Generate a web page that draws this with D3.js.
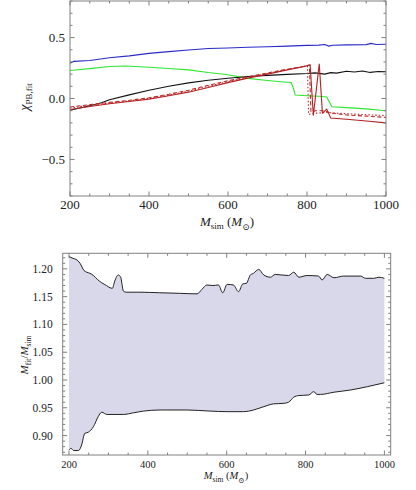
<!DOCTYPE html>
<html><head><meta charset="utf-8">
<script src="https://cdn.jsdelivr.net/npm/d3@7"></script>
<style>body{margin:0;background:#fff}svg{display:block}text{font-family:"Liberation Serif","DejaVu Serif",serif;fill:#222}</style>
</head><body><svg id="c" width="416" height="490"></svg>
<script>
// ---- data (top panel): [M_sim, chi]
const blueSeries = [[200,0.29],[210,0.305],[250,0.312],[300,0.335],[350,0.35],[400,0.37],[450,0.385],[500,0.398],[550,0.41],[600,0.414],[650,0.42],[700,0.425],[750,0.43],[800,0.436],[830,0.438],[845,0.443],[855,0.43],[865,0.437],[900,0.44],[950,0.442],[962,0.452],[975,0.443],[1000,0.445]];
const greenSeries = [[200,0.23],[250,0.245],[300,0.262],[340,0.267],[400,0.256],[450,0.246],[500,0.235],[550,0.213],[600,0.195],[650,0.165],[700,0.148],[740,0.136],[760,0.131],[766,0.08],[770,0.028],[800,0.022],[830,0.018],[850,0.012],[857,-0.03],[863,-0.068],[900,-0.075],[950,-0.085],[1000,-0.1]];
const blackSeries = [[200,-0.097],[250,-0.06],[280,-0.035],[300,-0.01],[350,0.03],[400,0.068],[450,0.1],[500,0.128],[550,0.15],[600,0.166],[650,0.18],[700,0.19],[750,0.198],[800,0.205],[820,0.21],[845,0.2],[860,0.212],[875,0.208],[900,0.224],[920,0.218],[940,0.226],[960,0.214],[980,0.222],[1000,0.22]];
const redSolid = [[200,-0.09],[250,-0.065],[300,-0.043],[350,-0.025],[400,-0.005],[450,0.022],[500,0.052],[550,0.09],[600,0.13],[650,0.167],[700,0.2],[750,0.235],[790,0.26],[808,0.276],[816,-0.14],[831,0.284],[839,-0.12],[850,-0.087],[860,-0.16],[900,-0.17],[950,-0.185],[1000,-0.2]];
const redDashed = [[200,-0.07],[250,-0.05],[300,-0.032],[350,-0.015],[400,0.006],[450,0.035],[500,0.068],[550,0.108],[600,0.145],[650,0.178],[700,0.21],[750,0.24],[800,0.268],[806,0.275],[810,-0.11],[822,-0.1],[845,-0.1],[860,-0.12],[900,-0.135],[950,-0.145],[1000,-0.155]];
const redDotted = [[200,-0.078],[250,-0.056],[300,-0.038],[350,-0.02],[400,0.0],[450,0.028],[500,0.06],[550,0.1],[600,0.138],[650,0.172],[700,0.205],[750,0.238],[795,0.265],[801,0.27],[804,-0.13],[825,-0.12],[850,-0.115],[900,-0.125],[950,-0.133],[1000,-0.14]];
const topXTicks = [200,400,600,800,1000];
const topYTicks = [-0.5,0.0,0.5];

// ---- data (bottom panel): [M_sim, M_fit/M_sim]
const upperBound = [[200,1.222],[210,1.219],[218,1.217],[228,1.21],[238,1.197],[245,1.194],[253,1.192],[262,1.188],[272,1.181],[283,1.175],[295,1.17],[304,1.166],[310,1.165],[316,1.178],[325,1.189],[331,1.185],[338,1.16],[345,1.158],[380,1.158],[430,1.157],[480,1.156],[525,1.155],[537,1.163],[550,1.171],[565,1.17],[579,1.171],[590,1.157],[601,1.172],[617,1.171],[630,1.159],[641,1.173],[650,1.174],[660,1.189],[668,1.192],[681,1.199],[694,1.189],[711,1.185],[723,1.19],[757,1.188],[770,1.194],[783,1.185],[804,1.188],[833,1.187],[842,1.18],[855,1.19],[872,1.184],[897,1.187],[940,1.187],[952,1.183],[973,1.183],[986,1.185],[1000,1.183]];
const lowerBound = [[200,0.874],[205,0.877],[212,0.873],[224,0.873],[232,0.883],[240,0.904],[249,0.906],[262,0.916],[274,0.934],[283,0.942],[296,0.938],[338,0.938],[364,0.941],[389,0.944],[431,0.946],[499,0.946],[558,0.944],[601,0.943],[643,0.943],[668,0.946],[690,0.951],[719,0.957],[745,0.958],[757,0.96],[770,0.969],[783,0.972],[808,0.973],[821,0.979],[829,0.974],[838,0.974],[872,0.978],[914,0.982],[957,0.988],[1000,0.995]];
const botXTicks = [200,400,600,800,1000];
const botYTicks = [0.90,0.95,1.00,1.05,1.10,1.15,1.20];

const svg = d3.select("#c");
const frameColor = "#808080";

function frame(g, x, y, xMajor, xMinorStep, yMajor, yMinorStep, yFmt, fs, fsx) {
  const [x0,x1] = x.range(), [y1,y0] = y.range();
  g.append("rect").attr("x",x0).attr("y",y0).attr("width",x1-x0).attr("height",y1-y0)
    .attr("fill","none").attr("stroke",frameColor).attr("stroke-width",1);
  const xd = x.domain(), yd = y.domain();
  const xMin = d3.range(Math.ceil(xd[0]/xMinorStep)*xMinorStep, xd[1]+1e-9, xMinorStep);
  const yMin = d3.range(Math.ceil(yd[0]/yMinorStep-1e-6)*yMinorStep, yd[1]+1e-9, yMinorStep);
  const isMaj = (v, arr) => arr.some(m => Math.abs(m-v)<1e-6);
  xMin.forEach(v => { const L = isMaj(v,xMajor)?4.5:2.5, px = x(v);
    g.append("line").attr("x1",px).attr("x2",px).attr("y1",y1).attr("y2",y1-L).attr("stroke",frameColor);
    g.append("line").attr("x1",px).attr("x2",px).attr("y1",y0).attr("y2",y0+L).attr("stroke",frameColor);});
  yMin.forEach(v => { const L = isMaj(v,yMajor)?4.5:2.5, py = y(v);
    g.append("line").attr("x1",x0).attr("x2",x0+L).attr("y1",py).attr("y2",py).attr("stroke",frameColor);
    g.append("line").attr("x1",x1).attr("x2",x1-L).attr("y1",py).attr("y2",py).attr("stroke",frameColor);});
  xMajor.forEach(v => g.append("text").attr("x",x(v)).attr("y",y1+13).attr("text-anchor","middle")
    .attr("font-size",fsx).text(v));
  yMajor.forEach(v => g.append("text").attr("x",x0-(fs>12?5:10)).attr("y",y(v)).attr("dy","0.35em")
    .attr("text-anchor","end").attr("font-size",fs).text(yFmt(v)));
}

// ---- top panel
const xT = d3.scaleLinear().domain([200,1000]).range([70,386]);
const yT = d3.scaleLinear().domain([-0.8,0.8]).range([196,1]);
const gT = svg.append("g");
const lineT = d3.line().x(d=>xT(d[0])).y(d=>yT(d[1]));
const clipT = svg.append("clipPath").attr("id","ct").append("rect").attr("x",70).attr("y",1).attr("width",316).attr("height",195);
const gTL = gT.append("g").attr("clip-path","url(#ct)");
gTL.append("path").datum(blueSeries).attr("d",lineT).attr("fill","none").attr("stroke","#2a2ac8").attr("stroke-width",1.1);
gTL.append("path").datum(greenSeries).attr("d",lineT).attr("fill","none").attr("stroke","#2ee62e").attr("stroke-width",1.1);
gTL.append("path").datum(blackSeries).attr("d",lineT).attr("fill","none").attr("stroke","#111").attr("stroke-width",1.1);
gTL.append("path").datum(redDotted).attr("d",lineT).attr("fill","none").attr("stroke","#c02a2a").attr("stroke-width",1.1).attr("stroke-dasharray","1.5,2");
gTL.append("path").datum(redDashed).attr("d",lineT).attr("fill","none").attr("stroke","#c02a2a").attr("stroke-width",1.1).attr("stroke-dasharray","4,2.5");
gTL.append("path").datum(redSolid).attr("d",lineT).attr("fill","none").attr("stroke","#b22222").attr("stroke-width",1.1);
frame(gT, xT, yT, topXTicks, 50, topYTicks, 0.1, v => v<0 ? "\u2212"+Math.abs(v).toFixed(1) : v.toFixed(1), 13, 13);
const xlT = gT.append("text").attr("x",227).attr("y",226).attr("text-anchor","middle").attr("font-size",13);
xlT.append("tspan").attr("font-style","italic").text("M");
xlT.append("tspan").attr("font-size",9).attr("dy",3).text("sim");
xlT.append("tspan").attr("dy",-3).text(" (");
xlT.append("tspan").attr("font-style","italic").text("M");
xlT.append("tspan").attr("font-size",9).attr("dy",4).text("\u2299");
xlT.append("tspan").attr("dy",-4).text(")");
const ylT = gT.append("text").attr("transform","translate(29,97) rotate(-90)").attr("text-anchor","middle").attr("font-size",14);
ylT.append("tspan").attr("font-style","italic").text("\u03c7");
ylT.append("tspan").attr("font-size",9).attr("dy",3).text("PB,fit");

// ---- bottom panel
const xB = d3.scaleLinear().domain([184,1016]).range([62.7,390.7]);
const yB = d3.scaleLinear().domain([0.865,1.228]).range([455,253.3]);
const gB = svg.append("g");
const area = d3.area().x(d=>xB(d[0])).y0((d,i)=>yB(lowerInterp(d[0]))).y1(d=>yB(d[1]));
function lowerInterp(m){ for(let i=1;i<lowerBound.length;i++){ if(m<=lowerBound[i][0]){const a=lowerBound[i-1],b=lowerBound[i];return a[1]+(b[1]-a[1])*(m-a[0])/(b[0]-a[0]);}} return lowerBound[lowerBound.length-1][1]; }
// build band polygon from both bounds
const band = upperBound.map(d=>[xB(d[0]),yB(d[1])]).concat(lowerBound.slice().reverse().map(d=>[xB(d[0]),yB(d[1])]));
gB.append("path").attr("d","M"+band.join("L")+"Z").attr("fill","#d8d8ea").attr("stroke","none");
const lineB = d3.line().x(d=>xB(d[0])).y(d=>yB(d[1])).curve(d3.curveMonotoneX);
gB.append("path").datum(upperBound).attr("d",lineB).attr("fill","none").attr("stroke","#222").attr("stroke-width",1);
gB.append("path").datum(lowerBound).attr("d",lineB).attr("fill","none").attr("stroke","#222").attr("stroke-width",1);
frame(gB, xB, yB, botXTicks, 50, botYTicks, 0.01, v => v.toFixed(2), 11.5, 10.5);
const xlB = gB.append("text").attr("x",226).attr("y",479).attr("text-anchor","middle").attr("font-size",10.5);
xlB.append("tspan").attr("font-style","italic").text("M");
xlB.append("tspan").attr("font-size",7.5).attr("dy",2.5).text("sim");
xlB.append("tspan").attr("dy",-2.5).text(" (");
xlB.append("tspan").attr("font-style","italic").text("M");
xlB.append("tspan").attr("font-size",7.5).attr("dy",4).text("\u2299");
xlB.append("tspan").attr("dy",-4).text(")");
const ylB = gB.append("text").attr("transform","translate(28,355) rotate(-90)").attr("text-anchor","middle").attr("font-size",11);
ylB.append("tspan").attr("font-style","italic").text("M");
ylB.append("tspan").attr("font-size",7.5).attr("dy",2.5).text("fit");
ylB.append("tspan").attr("dy",-2.5).text("/");
ylB.append("tspan").attr("font-style","italic").text("M");
ylB.append("tspan").attr("font-size",7.5).attr("dy",2.5).text("sim");
</script></body></html>
